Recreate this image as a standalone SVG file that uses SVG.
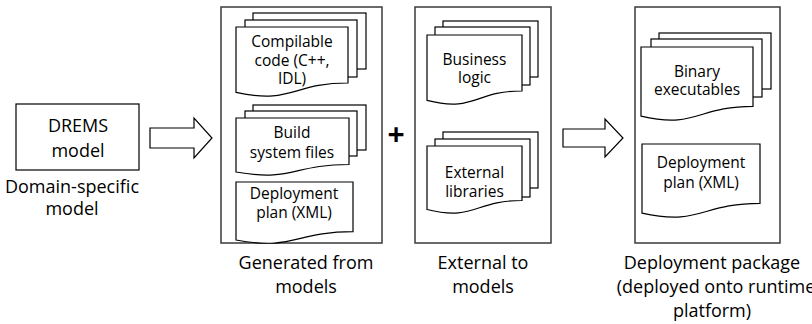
<svg xmlns="http://www.w3.org/2000/svg" width="812" height="324" viewBox="0 0 812 324">
  <defs>
    <style>
      .box { fill: #fff; stroke: #3a3a3a; stroke-width: 1.5; }
      .page { fill: #fff; stroke: #000; stroke-width: 1.2; stroke-linejoin: miter; }
      .arrow { fill: #fff; stroke: #000; stroke-width: 1.2; stroke-linejoin: miter; }
      .t { font-family: "Open Sans", "Liberation Sans", sans-serif; fill: #000; text-anchor: middle; }
      .doc { font-size: 15.5px; }
      .lbl { font-size: 18px; }
    </style>
  </defs>

  <rect width="812" height="324" fill="#fff"/>

  <!-- source model -->
  <g id="drems-model">
    <rect class="page" x="16" y="104" width="123" height="66"/>
    <text class="t lbl" x="78" y="132">DREMS</text>
    <text class="t lbl" x="78" y="157">model</text>
    <text class="t lbl" x="72" y="193">Domain-specific</text>
    <text class="t lbl" x="72" y="215">model</text>
  </g>

  <!-- block arrows and the plus -->
  <g id="connectors">
    <polygon class="arrow" points="150,128 194,128 194,118 212,138 194,158 194,148 150,148"/>
    <polygon class="arrow" points="563,129 605,129 605,119 623,138 605,157 605,147 563,147"/>
    <text class="t" x="396" y="145" font-size="30" font-weight="bold">+</text>
  </g>

  <!-- generated artefacts -->
  <g id="generated">
    <rect class="box" x="221" y="7" width="161" height="236"/>
    <g id="compilable-code">
      <rect class="page" x="253" y="13" width="113" height="56"/>
      <rect class="page" x="245" y="20" width="112" height="57"/>
      <path class="page" d="M236,27 H348 V83 C292,83 292,104.5 236,92.4 Z"/>
      <text class="t doc" x="292" y="47">Compilable</text>
      <text class="t doc" x="292" y="65.5">code (C++,</text>
      <text class="t doc" x="292" y="84">IDL)</text>
    </g>
    <g id="build-files">
      <rect class="page" x="253" y="105" width="113" height="45"/>
      <rect class="page" x="245" y="111" width="112" height="45"/>
      <path class="page" d="M236,118 H349 V164.5 C292.5,164.5 292.5,182 236,172 Z"/>
      <text class="t doc" x="292" y="138">Build</text>
      <text class="t doc" x="292" y="158">system files</text>
    </g>
    <g id="deployment-plan-generated">
      <path class="page" d="M236,182 H353 V231.7 C294.5,231.7 294.5,250.7 236,240 Z"/>
      <text class="t doc" x="294" y="199">Deployment</text>
      <text class="t doc" x="294" y="218">plan (XML)</text>
    </g>
    <text class="t lbl" x="306" y="269">Generated from</text>
    <text class="t lbl" x="306" y="293">models</text>
  </g>

  <!-- external artefacts -->
  <g id="external">
    <rect class="box" x="415" y="7" width="136" height="236"/>
    <g id="business-logic">
      <rect class="page" x="443" y="21" width="95" height="56"/>
      <rect class="page" x="435" y="27" width="95" height="58"/>
      <path class="page" d="M427,35 H522 V91 C474.5,91 474.5,112.5 427,100.4 Z"/>
      <text class="t doc" x="474.5" y="65">Business</text>
      <text class="t doc" x="474.5" y="83">logic</text>
    </g>
    <g id="external-libraries">
      <rect class="page" x="443" y="132" width="95" height="56"/>
      <rect class="page" x="435" y="139" width="95" height="58"/>
      <path class="page" d="M427,146 H522 V200.5 C474.5,200.5 474.5,221.3 427,209.5 Z"/>
      <text class="t doc" x="474.5" y="178">External</text>
      <text class="t doc" x="474.5" y="197">libraries</text>
    </g>
    <text class="t lbl" x="483" y="269">External to</text>
    <text class="t lbl" x="483" y="293">models</text>
  </g>

  <!-- deployment package -->
  <g id="package">
    <rect class="box" x="635" y="7" width="145" height="236"/>
    <g id="binary-executables">
      <rect class="page" x="659" y="33" width="112" height="56"/>
      <rect class="page" x="651" y="39" width="111" height="58"/>
      <path class="page" d="M641,47 H753 V106.3 C697,106.3 697,129 641,116.1 Z"/>
      <text class="t doc" x="697" y="77">Binary</text>
      <text class="t doc" x="697" y="95">executables</text>
    </g>
    <g id="deployment-plan-package">
      <path class="page" d="M642,144 H760 V203.3 C701,203.3 701,226 642,213.1 Z"/>
      <text class="t doc" x="701" y="168">Deployment</text>
      <text class="t doc" x="701" y="188">plan (XML)</text>
    </g>
    <text class="t lbl" x="712" y="269">Deployment package</text>
    <text class="t lbl" x="716" y="293">(deployed onto runtime</text>
    <text class="t lbl" x="712" y="317">platform)</text>
  </g>
</svg>
